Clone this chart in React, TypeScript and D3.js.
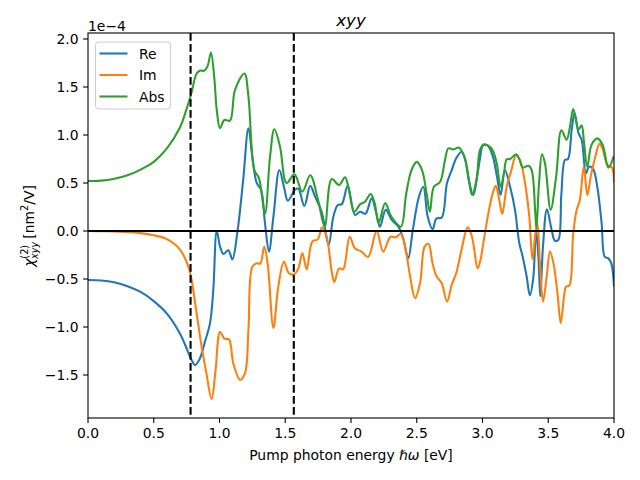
import React from "react";
import * as d3 from "d3";

const reData: [number, number][] = [
  [0, -0.51], [0.1, -0.515], [0.2, -0.535], [0.3, -0.575], [0.4, -0.635], [0.5, -0.73], [0.6, -0.86],
  [0.7, -1.07], [0.74, -1.19], [0.783, -1.33], [0.814, -1.396], [0.85, -1.33], [0.89, -1.15], [0.928, -0.96],
  [0.953, -0.61], [0.979, 0.0], [1.004, -0.16], [1.03, -0.24], [1.067, -0.2], [1.098, -0.295], [1.138, 0.01],
  [1.18, 0.53], [1.22, 1.07], [1.25, 0.77], [1.283, 0.5], [1.316, 0.43], [1.346, 0.08], [1.376, -0.215],
  [1.41, 0.15], [1.455, 0.635], [1.49, 0.46], [1.52, 0.315], [1.574, 0.43], [1.6, 0.44], [1.645, 0.26],
  [1.69, 0.47], [1.726, 0.36], [1.777, 0.2], [1.83, -0.146], [1.866, 0.15], [1.9, 0.27], [1.93, 0.28],
  [1.975, 0.47], [2.03, 0.167], [2.07, 0.2], [2.11, 0.18], [2.157, 0.34], [2.19, 0.2], [2.22, 0.045],
  [2.264, 0.22], [2.31, 0.115], [2.36, 0.045], [2.4, -0.094], [2.435, -0.285], [2.47, 0.01], [2.517, 0.36],
  [2.55, 0.46], [2.583, 0.15], [2.62, 0.017], [2.65, 0.13], [2.69, 0.14], [2.73, 0.5], [2.766, 0.635],
  [2.8, 0.757], [2.84, 0.826], [2.87, 0.74], [2.897, 0.52], [2.93, 0.375], [2.963, 0.6], [2.98, 0.75],
  [3.006, 0.9], [3.04, 0.89], [3.08, 0.77], [3.11, 0.566], [3.138, 0.375], [3.17, 0.635], [3.21, 0.46],
  [3.247, 0.22], [3.28, -0.128], [3.306, -0.27], [3.336, -0.476], [3.36, -0.67], [3.386, -0.49],
  [3.407, 0.01], [3.425, -0.27], [3.44, -0.68], [3.46, -0.16], [3.49, 0.226], [3.526, 0.01], [3.55, -0.1],
  [3.576, -0.094], [3.6, 0.39], [3.627, 0.74], [3.65, 0.75], [3.678, 1.05], [3.7, 1.23], [3.73, 1.02],
  [3.754, 0.95], [3.787, 0.6], [3.81, 0.67], [3.84, 0.65], [3.873, 0.46], [3.906, 0.08], [3.93, -0.27],
  [3.957, -0.285], [3.98, -0.34], [4.0, -0.57],
];

const imData: [number, number][] = [
  [0, 0], [0.1, -0.002], [0.2, -0.006], [0.3, -0.012], [0.4, -0.022], [0.5, -0.045], [0.6, -0.085],
  [0.7, -0.195], [0.763, -0.37], [0.788, -0.51], [0.826, -0.857], [0.864, -1.205], [0.9, -1.48], [0.94, -1.75],
  [0.97, -1.45], [1.004, -1.05], [1.037, -1.12], [1.072, -1.13], [1.105, -1.38], [1.156, -1.55],
  [1.194, -1.48], [1.22, -1.03], [1.25, -0.37], [1.283, -0.337], [1.31, -0.34], [1.34, -0.163],
  [1.366, -0.337], [1.41, -1.01], [1.447, -0.58], [1.49, -0.32], [1.528, -0.44], [1.569, -0.45],
  [1.6, -0.39], [1.63, -0.23], [1.663, -0.4], [1.706, -0.11], [1.747, -0.087], [1.78, 0.038],
  [1.815, -0.06], [1.853, -0.42], [1.873, -0.53], [1.91, -0.39], [1.94, -0.4], [1.99, -0.06],
  [2.03, -0.18], [2.08, -0.215], [2.13, -0.27], [2.195, 0.0], [2.245, -0.215], [2.3, -0.06],
  [2.34, -0.066], [2.38, -0.03], [2.416, -0.2], [2.45, -0.476], [2.487, -0.7], [2.525, -0.545],
  [2.56, -0.163], [2.59, -0.135], [2.62, -0.337], [2.65, -0.47], [2.69, -0.545], [2.73, -0.736],
  [2.766, -0.56], [2.8, -0.44], [2.84, -0.2], [2.887, 0.038], [2.92, -0.06], [2.963, -0.39],
  [2.985, -0.3], [3.006, -0.128], [3.044, 0.18], [3.077, 0.39], [3.1, 0.47], [3.128, 0.32],
  [3.15, 0.177], [3.184, 0.46], [3.22, 0.635], [3.255, 0.79], [3.29, 0.72], [3.323, 0.5],
  [3.356, 0.15], [3.38, -0.295], [3.4, -0.06], [3.417, 0.08], [3.437, -0.337], [3.46, -0.736],
  [3.488, -0.476], [3.513, -0.215], [3.54, -0.337], [3.57, -0.65], [3.595, -0.96], [3.62, -0.68],
  [3.635, -0.58], [3.66, -0.57], [3.69, -0.024], [3.716, 0.22], [3.74, 0.32], [3.77, 0.67],
  [3.797, 0.375], [3.823, 0.566], [3.855, 0.757], [3.89, 0.91], [3.914, 0.85], [3.95, 0.69],
  [3.985, 0.66], [4.0, 0.51],
];

const absData: [number, number][] = [
  [0, 0.52], [0.1, 0.525], [0.2, 0.545], [0.3, 0.58], [0.4, 0.64], [0.5, 0.72], [0.6, 0.86],
  [0.7, 1.08], [0.74, 1.23], [0.783, 1.42], [0.826, 1.64], [0.85, 1.67], [0.885, 1.67], [0.91, 1.72],
  [0.935, 1.86], [0.96, 1.6], [0.98, 1.25], [1.004, 1.07], [1.037, 1.156], [1.08, 1.15], [1.118, 1.47],
  [1.19, 1.64], [1.22, 1.4], [1.265, 0.635], [1.3, 0.55], [1.346, 0.18], [1.384, 0.77], [1.417, 1.06],
  [1.46, 0.88], [1.51, 0.5], [1.57, 0.59], [1.63, 0.41], [1.69, 0.58], [1.75, 0.32], [1.8, 0.045],
  [1.853, 0.54], [1.91, 0.48], [1.954, 0.56], [1.98, 0.46], [2.025, 0.2], [2.07, 0.28], [2.106, 0.305],
  [2.15, 0.385], [2.18, 0.29], [2.21, 0.087], [2.26, 0.29], [2.3, 0.167], [2.335, 0.097], [2.38, 0.045],
  [2.42, 0.39], [2.46, 0.635], [2.5, 0.72], [2.54, 0.635], [2.575, 0.39], [2.6, 0.2], [2.63, 0.46],
  [2.677, 0.51], [2.715, 0.74], [2.74, 0.86], [2.78, 0.85], [2.82, 0.87], [2.86, 0.78], [2.897, 0.53],
  [2.92, 0.375], [2.956, 0.55], [2.98, 0.84], [3.006, 0.896], [3.04, 0.89], [3.077, 0.84],
  [3.108, 0.705], [3.138, 0.46], [3.163, 0.6], [3.184, 0.746], [3.21, 0.75], [3.255, 0.8], [3.28, 0.75],
  [3.306, 0.66], [3.35, 0.68], [3.374, 0.635], [3.4, 0.22], [3.41, 0.03], [3.43, 0.5], [3.452, 0.8],
  [3.475, 0.705], [3.518, 0.22], [3.56, 0.566], [3.6, 1.05], [3.64, 0.95], [3.665, 1.086], [3.69, 1.27],
  [3.73, 1.06], [3.754, 1.1], [3.77, 0.95], [3.797, 0.67], [3.83, 0.9], [3.873, 0.965], [3.914, 0.896],
  [3.957, 0.66], [3.996, 0.77],
];

const xTicks = [0, 0.5, 1.0, 1.5, 2.0, 2.5, 3.0, 3.5, 4.0];
const yTicks = [-1.5, -1.0, -0.5, 0.0, 0.5, 1.0, 1.5, 2.0];
const vLines = [0.78, 1.565];
const seriesNames = ["Re", "Im", "Abs"];
const seriesColors = ["#1f77b4", "#ff7f0e", "#2ca02c"];

const FONT = "DejaVu Sans, sans-serif";
const L = 88, R = 614, T = 33, B = 418;

function fmt(v: number) {
  const s = v.toFixed(1);
  return s.replace("-", "\u2212");
}

export default function App() {
  const x = d3.scaleLinear().domain([0, 4]).range([L, R]);
  const y = d3.scaleLinear().domain([-1.948, 2.0625]).range([B, T]);
  const line = d3
    .line<[number, number]>()
    .x((d) => x(d[0]))
    .y((d) => y(d[1]))
    .curve(d3.curveCatmullRom.alpha(0.5));
  const allData = [reData, imData, absData];
  const fs = 13.9;

  return (
    <svg width={640} height={480} style={{ display: "block", position: "absolute", left: 0, top: 0 }} fontFamily={FONT}>
      <rect width={640} height={480} fill="#fff" />
      <defs>
        <clipPath id="plotclip">
          <rect x={L} y={T} width={R - L} height={B - T} />
        </clipPath>
      </defs>
      <g clipPath="url(#plotclip)">
        {allData.map((d, i) => (
          <path key={i} d={line(d) || ""} fill="none" stroke={seriesColors[i]} strokeWidth={2.08} strokeLinejoin="round" strokeLinecap="square" />
        ))}
        <line x1={L} x2={R} y1={y(0)} y2={y(0)} stroke="#000" strokeWidth={2.08} />
        {vLines.map((v, i) => (
          <line key={i} x1={x(v)} x2={x(v)} y1={T} y2={B} stroke="#000" strokeWidth={2.08} strokeDasharray="7.7,3.3" />
        ))}
      </g>
      <rect x={L} y={T} width={R - L} height={B - T} fill="none" stroke="#000" strokeWidth={1.1} />
      {xTicks.map((t) => (
        <g key={t}>
          <line x1={x(t)} x2={x(t)} y1={B} y2={B + 4.9} stroke="#000" strokeWidth={1.1} />
          <text x={x(t)} y={438} fontSize={fs} textAnchor="middle" fill="#000">{t.toFixed(1)}</text>
        </g>
      ))}
      {yTicks.map((t) => (
        <g key={t}>
          <line x1={L - 4.9} x2={L} y1={y(t)} y2={y(t)} stroke="#000" strokeWidth={1.1} />
          <text x={78.5} y={y(t) + 5} fontSize={fs} textAnchor="end" fill="#000">{fmt(t)}</text>
        </g>
      ))}
      <text x={L} y={30.5} fontSize={fs} fill="#000">1e{"\u2212"}4</text>
      <text x={(L + R) / 2} y={26} fontSize={16.7} textAnchor="middle" fontStyle="italic" fill="#000">xyy</text>
      <text x={(L + R) / 2} y={460} fontSize={fs} textAnchor="middle" fill="#000">
        Pump photon energy <tspan fontStyle="italic">ℏω</tspan> [eV]
      </text>
      <text transform="translate(34,226) rotate(-90)" fontSize={fs} textAnchor="middle" fill="#000">
        <tspan fontStyle="italic">χ</tspan>
        <tspan fontSize={9.7} dy={-6}>(2)</tspan>
        <tspan fontSize={9.7} fontStyle="italic" dx={-14} dy={10}>xyy</tspan>
        <tspan dy={-4} dx={3}>[nm</tspan>
        <tspan fontSize={9.7} dy={-6}>2</tspan>
        <tspan dy={6}>/V]</tspan>
      </text>
      <g>
        <rect x={95.5} y={42} width={75} height={67} rx={3} fill="#fff" fillOpacity={0.8} stroke="#cccccc" strokeWidth={1} />
        {seriesNames.map((n, i) => (
          <g key={n}>
            <line x1={99.5} x2={127.5} y1={53.5 + i * 21.5} y2={53.5 + i * 21.5} stroke={seriesColors[i]} strokeWidth={2.08} />
            <text x={139} y={58.5 + i * 21.5} fontSize={fs} fill="#000">{n}</text>
          </g>
        ))}
      </g>
    </svg>
  );
}
